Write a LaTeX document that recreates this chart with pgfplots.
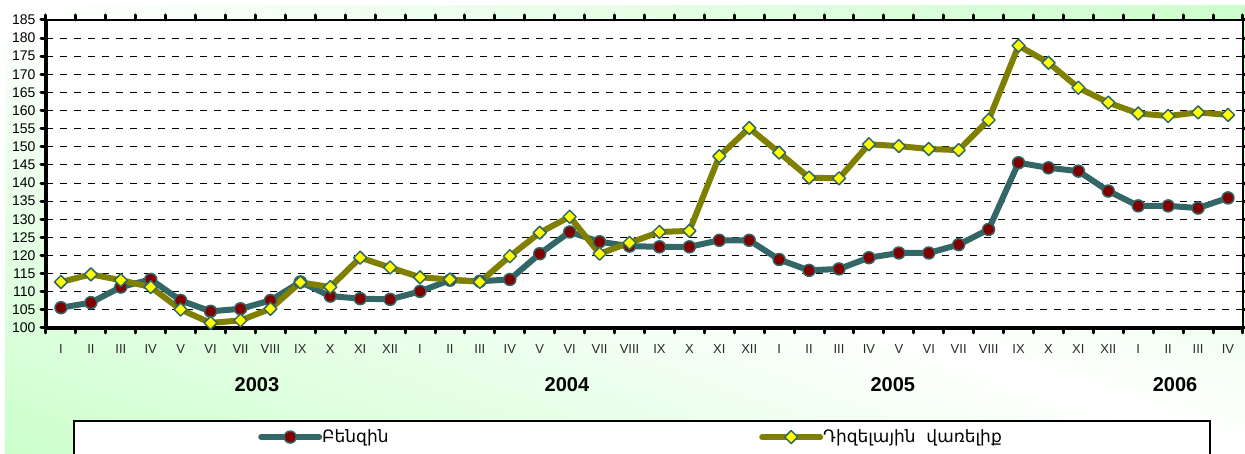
\documentclass[border=0pt]{standalone}
\usepackage{pgfplots}
\pgfplotsset{compat=1.18}
\usepackage{pgfplotstable}
\usepackage{fontspec}
\setmainfont{Liberation Sans}
\newfontfamily\armfont{DejaVu Sans}
\definecolor{benz}{RGB}{51,102,102}
\definecolor{benzfill}{RGB}{128,0,0}
\definecolor{dies}{RGB}{128,128,0}
\definecolor{diesfill}{RGB}{255,255,0}
\definecolor{bggreen}{RGB}{204,255,204}
\definecolor{lblgray}{RGB}{40,40,40}

\pgfdeclarefunctionalshading{diaggreen}{\pgfpoint{0bp}{0bp}}{\pgfpoint{100bp}{100bp}}{}{
  add 100 sub abs 50 div dup 1 gt {pop 1} if 0.2 mul 1 exch sub dup 1 exch
}

\pgfplotstableread{
x b d
0.5 105.6 112.7
1.5 107.0 114.8
2.5 111.3 113.2
3.5 113.4 111.3
4.5 107.6 105.1
5.5 104.6 101.4
6.5 105.3 102.1
7.5 107.6 105.3
8.5 112.7 112.6
9.5 108.8 111.3
10.5 108.1 119.4
11.5 107.9 116.7
12.5 110.1 114.0
13.5 113.2 113.4
14.5 112.9 112.7
15.5 113.4 119.8
16.5 120.5 126.3
17.5 126.5 130.7
18.5 123.8 120.5
19.5 122.6 123.5
20.5 122.4 126.5
21.5 122.4 126.8
22.5 124.2 147.4
23.5 124.2 155.2
24.5 118.9 148.4
25.5 115.9 141.5
26.5 116.3 141.3
27.5 119.4 150.7
28.5 120.7 150.2
29.5 120.7 149.4
30.5 123.0 149.1
31.5 127.2 157.4
32.5 145.6 177.9
33.5 144.2 173.2
34.5 143.3 166.3
35.5 137.8 162.2
36.5 133.7 159.2
37.5 133.7 158.5
38.5 133.1 159.5
39.5 135.9 158.8
}\datatable

\begin{document}
\begin{tikzpicture}[x=1pt,y=1pt]
\useasboundingbox (0,0) rectangle (1245,454);
\fill[white] (0,0) rectangle (1245,454);
\shade[shading=diaggreen] (5,0) rectangle (1245,448);
% legend frame (extends beyond bottom edge)
\fill[white] (74,0) rectangle (1210,33);
\draw[line width=2pt] (74,-2) -- (74,33) -- (1210,33) -- (1210,-2);
\begin{axis}[
  at={(46pt,126pt)}, anchor=south west,
  scale only axis, width=1197pt, height=308pt,
  xmin=0, xmax=40, ymin=100, ymax=185,
  clip=false,
  axis background/.style={fill=white},
  axis line style={line width=2pt},
  xtick={0,...,40},
  x tick label as interval,
  xticklabels={I,II,III,IV,V,VI,VII,VIII,IX,X,XI,XII,I,II,III,IV,V,VI,VII,VIII,IX,X,XI,XII,I,II,III,IV,V,VI,VII,VIII,IX,X,XI,XII,I,II,III,IV},
  ytick={100,105,...,185},
  tick align=outside,
  major tick length=5pt,
  tick style={black, line width=3pt, line cap=round},
  ymajorgrids,
  grid style={black, line width=1pt, dash pattern=on 7pt off 7pt},
  /pgf/number format/assume math mode=true,
  yticklabel style={font=\fontsize{14}{16}\selectfont, black, xshift=-2pt},
  xticklabel style={font=\fontsize{13}{15}\selectfont, lblgray, yshift=-8pt},
  legend columns=2,
  legend style={at={(axis cs:7.085,69.9)}, anchor=west, draw=none, fill=none,
    inner sep=0pt, nodes={inner sep=0pt},
    font=\armfont\fontsize{17}{20}\selectfont,
    /tikz/every even column/.append style={column sep=0pt}},
  legend image code/.code={\draw[mark repeat=2,mark phase=2,#1] plot coordinates {(0pt,0pt) (29pt,0pt) (58pt,0pt)};},
]
\draw[line width=4pt] (rel axis cs:0,0) -- (rel axis cs:1,0);
\draw[line width=4pt] (rel axis cs:0,0) -- (rel axis cs:0,1);
\addplot[benz, line width=6pt, line join=round, line cap=round, mark=*, mark size=6pt,
  mark options={solid, fill=benzfill, draw=benz, line width=1.5pt}]
  table[x=x, y=b] {\datatable};
\addlegendentry{\makebox[437pt][l]{Բենզին}}
\addplot[dies, line width=6pt, line join=round, line cap=round, mark=square*, mark size=4.6pt,
  mark options={solid, rotate=45, fill=diesfill, draw=benz, line width=1.5pt}]
  table[x=x, y=d] {\datatable};
\addlegendentry{Դիզելային\ \ վառելիք}
\node[font=\bfseries\fontsize{20}{24}\selectfont] at (axis cs:7.05,84.3) {2003};
\node[font=\bfseries\fontsize{20}{24}\selectfont] at (axis cs:17.41,84.3) {2004};
\node[font=\bfseries\fontsize{20}{24}\selectfont] at (axis cs:28.3,84.3) {2005};
\node[font=\bfseries\fontsize{20}{24}\selectfont] at (axis cs:37.73,84.3) {2006};
\end{axis}
\end{tikzpicture}
\end{document}
